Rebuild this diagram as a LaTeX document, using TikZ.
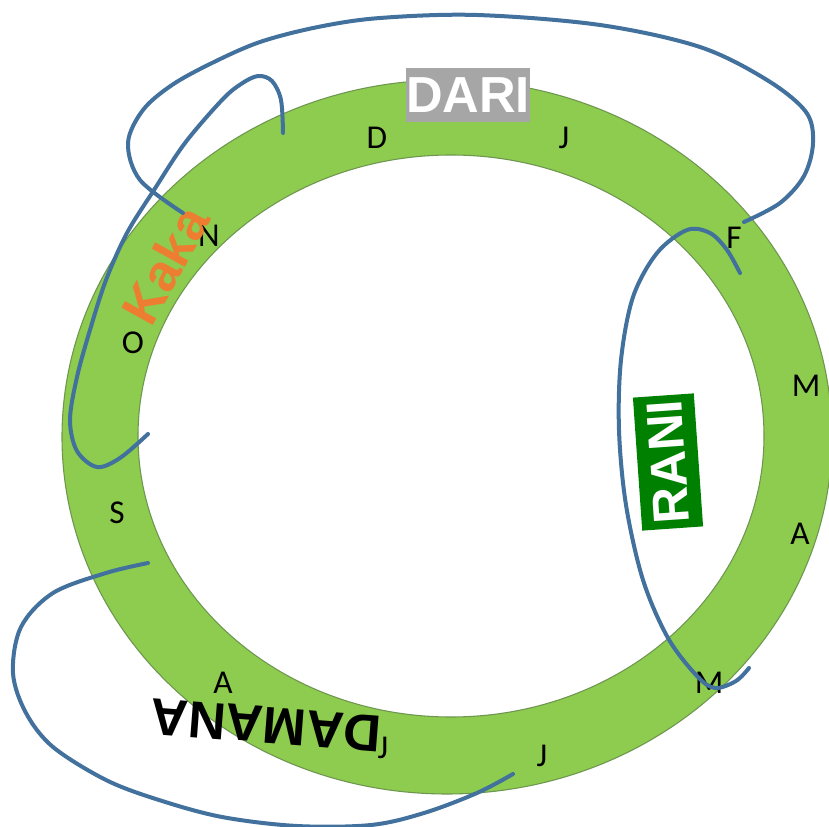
\documentclass[tikz,border=0pt]{standalone}
\usepackage{fontspec}
\setmainfont{Liberation Sans}
\newfontfamily\calfont{Carlito}
\definecolor{ringgreen}{RGB}{141,204,78}
\definecolor{ringedge}{RGB}{110,150,80}
\definecolor{loopblue}{RGB}{65,113,156}
\definecolor{darigrey}{RGB}{166,166,166}
\definecolor{ranigreen}{RGB}{0,128,0}
\definecolor{kakaorange}{RGB}{237,125,49}
\begin{document}
\begin{tikzpicture}[x=0.75pt,y=-0.75pt,
  month/.style={font=\calfont\fontsize{25}{25}\selectfont, text=black, inner sep=0pt},
  loop/.style={draw=loopblue, line width=3pt, line cap=round, line join=round},
  bigword/.style={font=\bfseries\fontsize{38}{38}\selectfont, inner sep=0pt}]
\useasboundingbox (0,0) rectangle (829,827);
\fill[white] (0,0) rectangle (829,827);
% ring
\path[fill=ringgreen, draw=ringedge, line width=0.8pt, even odd rule]
  (447,437) ellipse [x radius=385, y radius=357]
  (451,436) ellipse [x radius=313, y radius=281];
% month letters
\node[month] (d1) at (377,138) {D};
\node[month] (j1) at (564,138) {J};
\node[month] (f1) at (734,238) {F};
\node[month] (m1) at (806,386) {M};
\node[month] (a1) at (800,534) {A};
\node[month] (m2) at (709,683) {M};
\node[month] (j2) at (542,756) {J};
\node[month] (j3) at (383,748) {J};
\node[month] (a2) at (223,683) {A};
\node[month] (s1) at (117,513) {S};
\node[month] (o1) at (133,343) {O};
\node[month] (n1) at (209,236) {N};
% labels
\node[bigword, fill=darigrey, text=white, minimum width=93pt, minimum height=40.5pt] (dari) at (468,95) {DARI};
\node[bigword, fill=ranigreen, text=white, minimum width=100pt, minimum height=45.75pt, rotate=94] (rani) at (668,462) {RANI};
\node[bigword, text=kakaorange, font=\bfseries\fontsize{39}{39}\selectfont, rotate=61] (kaka) at (165,265) {Kaka};
\node[bigword, text=black, font=\bfseries\fontsize{39}{39}\selectfont, rotate=175.6] (damana) at (266,725) {DAMANA};
% blue loops
\draw[loop] plot[smooth, tension=0.55] coordinates {(744,222) (780,203) (804,176) (813,143) (806,112) (767,80) (700,47) (600,25) (477,15) (380,18) (318,27) (260,42) (212,63) (172,85) (143,110) (128,143) (140,180) (183,213)};
\draw[loop] plot[smooth, tension=0.55] coordinates {(283,133) (281,100) (272,81) (258,76) (241,84) (222,100) (185,143) (154,190) (127,233) (106,280) (90,330) (77,377) (70,420) (77,451) (97,467) (120,458) (148,434)};
\draw[loop] plot[smooth, tension=0.55] coordinates {(740,273) (727,250) (710,233) (687,230) (657,253) (633,297) (621,360) (619,430) (626,505) (643,580) (668,638) (697,676) (715,688) (736,681) (749,668)};
\draw[loop] plot[smooth, tension=0.55] coordinates {(148,563) (106,573) (53,593) (21,627) (13,673) (26,713) (53,747) (106,780) (159,800) (222,817) (297,826) (371,825) (424,813) (477,793) (513,774)};
\end{tikzpicture}
\end{document}
